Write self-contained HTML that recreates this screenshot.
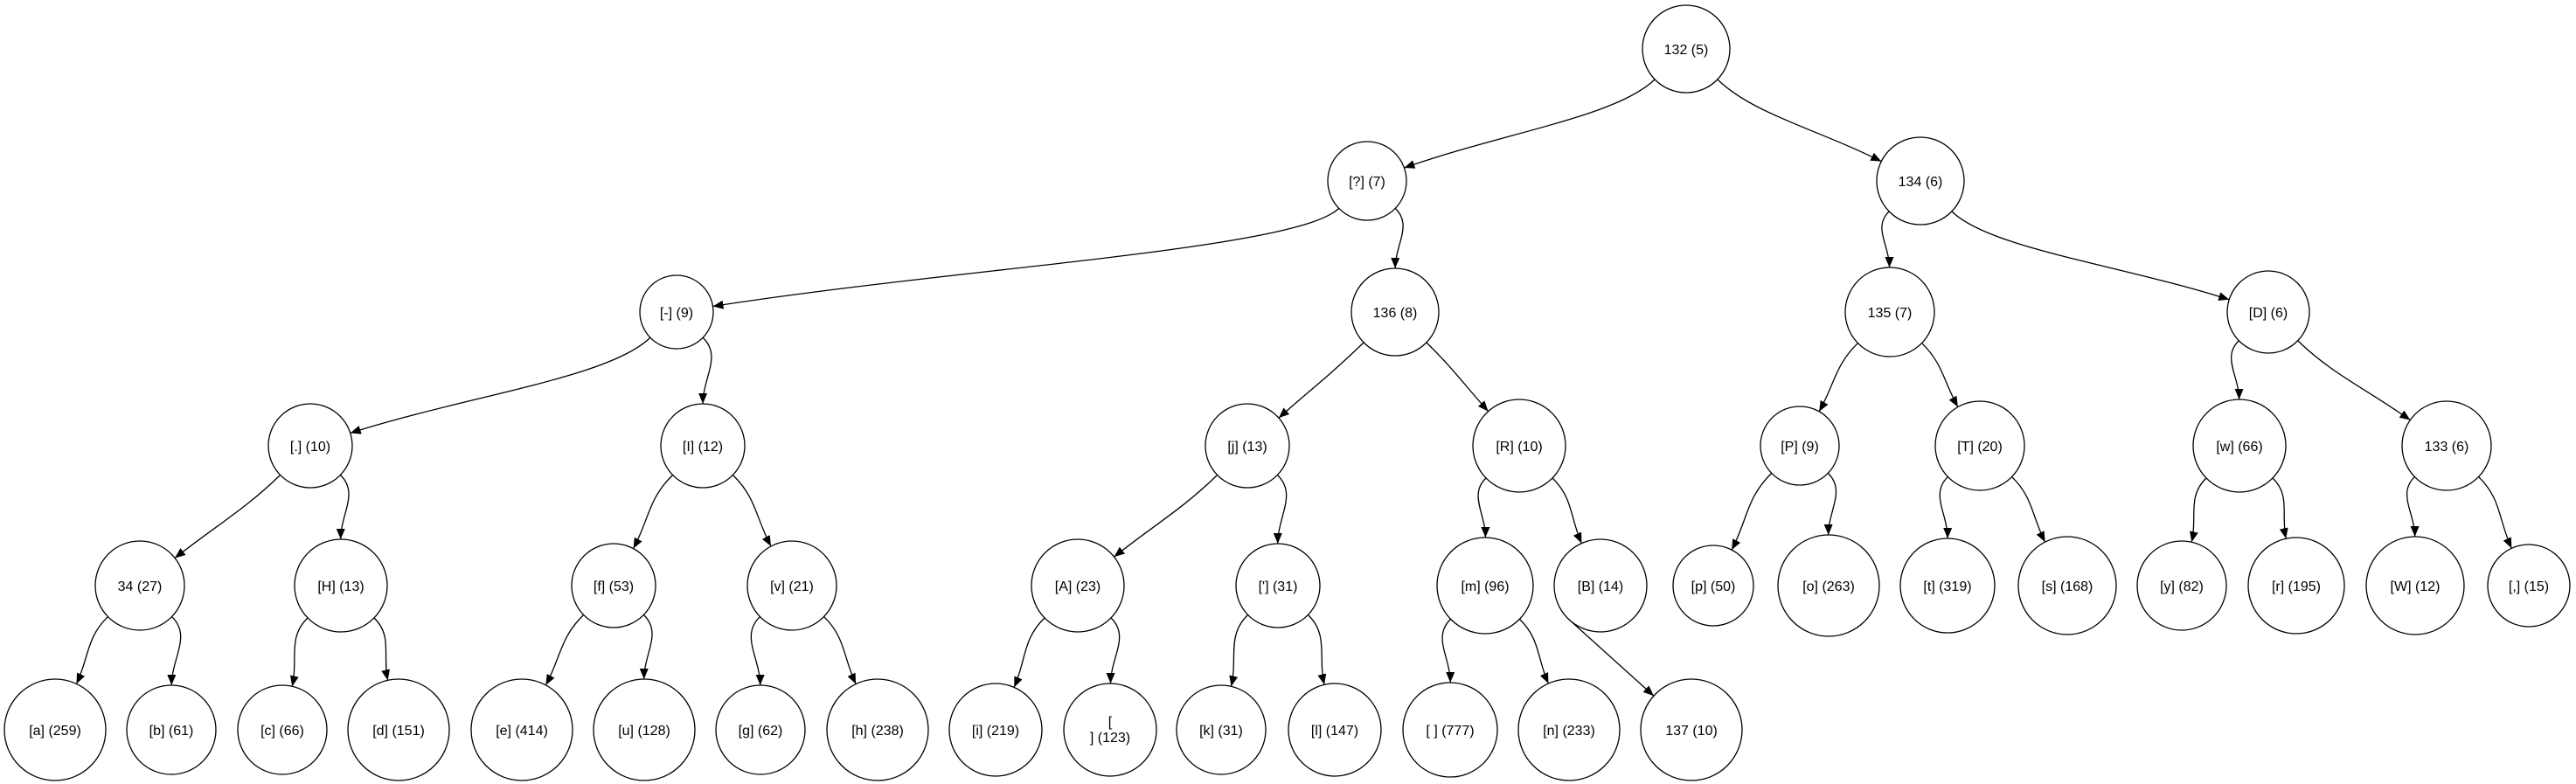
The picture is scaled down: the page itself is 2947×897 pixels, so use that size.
<!DOCTYPE html>
<html><head><meta charset="utf-8"><style>
html,body{margin:0;padding:0;background:#fff;}
svg{display:block;}
text{font-family:"Liberation Sans",sans-serif;font-size:16px;fill:#000;}
</style></head><body>
<svg id="s" width="2947" height="897" viewBox="0 0 2947 897" xmlns="http://www.w3.org/2000/svg">
<defs><marker id="a" markerWidth="12" markerHeight="10" refX="12" refY="5" orient="auto" markerUnits="userSpaceOnUse"><path d="M0,0 L12,5 L0,10 Z" fill="#000"/></marker></defs>
<g id="e"></g><g id="n"></g>
</svg>
<script>
var N={
r:[1929,56,50,"132 (5)"],q:[1564,207,45,"[?] (7)"],n134:[2197,207,50,"134 (6)"],
dash:[774,357,42,"[-] (9)"],n136:[1596,357,50,"136 (8)"],n135:[2162,357,51,"135 (7)"],D:[2595,357,47,"[D] (6)"],
dot:[355,510,48,"[.] (10)"],I:[804,510,48,"[I] (12)"],j:[1427,510,48,"[j] (13)"],R:[1738,510,53,"[R] (10)"],
P:[2059,510,45,"[P] (9)"],T:[2265,510,51,"[T] (20)"],w:[2562,510,53,"[w] (66)"],n133:[2799,510,51,"133 (6)"],
n34:[160,670,51,"34 (27)"],H:[390,670,53,"[H] (13)"],f:[702,670,48,"[f] (53)"],v:[906,670,51,"[v] (21)"],
A:[1233,670,53,"[A] (23)"],ap:[1462,670,48,"['] (31)"],m:[1699,670,55,"[m] (96)"],B:[1831,670,53,"[B] (14)"],
p:[1960,670,46,"[p] (50)"],o:[2092,670,58,"[o] (263)"],t:[2228,670,54,"[t] (319)"],s:[2365,670,56,"[s] (168)"],
y:[2496,670,51,"[y] (82)"],rr:[2627,670,55,"[r] (195)"],W:[2763,670,56,"[W] (12)"],cm:[2893,670,47,"[,] (15)"],
a:[63,835,58,"[a] (259)"],b:[196,835,51,"[b] (61)"],c:[323,835,51,"[c] (66)"],d:[456,835,58,"[d] (151)"],
ee:[597,835,58,"[e] (414)"],u:[737,835,58,"[u] (128)"],g:[870,835,51,"[g] (62)"],h:[1004,835,58,"[h] (238)"],
i:[1139,835,53,"[i] (219)"],nl:[1270,835,53,"NL"],k:[1397,835,51,"[k] (31)"],l:[1527,835,53,"[l] (147)"],
sp:[1659,835,54,"[ ] (777)"],nn:[1795,835,58,"[n] (233)"],n137:[1935,835,58,"137 (10)"]};
var E=[["r","q"],["r","n134"],["q","dash"],["q","n136"],["n134","n135"],["n134","D"],
["dash","dot"],["dash","I"],["n136","j"],["n136","R"],["n135","P"],["n135","T"],["D","w"],["D","n133"],
["dot","n34"],["dot","H"],["I","f"],["I","v"],["j","A"],["j","ap"],["R","m"],["R","B"],
["P","p"],["P","o"],["T","t"],["T","s"],["w","y"],["w","rr"],["n133","W"],["n133","cm"],
["n34","a"],["n34","b"],["H","c"],["H","d"],["f","ee"],["f","u"],["v","g"],["v","h"],
["A","i"],["A","nl"],["ap","k"],["ap","l"],["m","sp"],["m","nn"]];
var ns="http://www.w3.org/2000/svg",eg=document.getElementById("e"),ng=document.getElementById("n");
function mk(t,at,par){var el=document.createElementNS(ns,t);for(var k in at)el.setAttribute(k,at[k]);par.appendChild(el);return el;}
E.forEach(function(x){var P=N[x[0]],C=N[x[1]];var sg=C[0]<P[0]?-1:1;
var ux=sg*0.72,uy=0.70;var x0=P[0]+P[2]*ux,y0=P[1]+P[2]*uy;
var dx=x0-C[0],dy=y0-C[1],L=Math.hypot(dx,dy);var vx=dx/L,vy=dy/L;
var x3=C[0]+C[2]*vx,y3=C[1]+C[2]*vy;
var ch=Math.hypot(x3-x0,y3-y0);var D1=Math.min(0.4*ch,Math.abs(y3-y0)*0.6);var D2=0.4*ch;
var d="M"+x0+","+y0+" C"+(x0+ux*D1)+","+(y0+uy*D1)+" "+(x3+vx*D2)+","+(y3+vy*D2)+" "+x3+","+y3;
mk("path",{d:d,fill:"none",stroke:"#000","stroke-width":1.3,"marker-end":"url(#a)"},eg);});
(function(){var C=N.n137;var x0=1793,y0=707;var dx=x0-C[0],dy=y0-C[1],L=Math.hypot(dx,dy);
mk("path",{d:"M"+x0+","+y0+" L"+(C[0]+C[2]*dx/L)+","+(C[1]+C[2]*dy/L),fill:"none",stroke:"#000","stroke-width":1.3,"marker-end":"url(#a)"},eg);})();
for(var k in N){var v=N[k];mk("ellipse",{cx:v[0],cy:v[1],rx:v[2],ry:v[2],fill:"#fff",stroke:"#000","stroke-width":1.3},ng);
if(v[3]=="NL"){var t1=mk("text",{x:v[0],y:v[1]-4,"text-anchor":"middle"},ng);t1.textContent="[";
var t2=mk("text",{x:v[0],y:v[1]+14,"text-anchor":"middle"},ng);t2.textContent="] (123)";}
else{var t=mk("text",{x:v[0],y:v[1]+6,"text-anchor":"middle"},ng);t.textContent=v[3];}}
</script>
</body></html>
